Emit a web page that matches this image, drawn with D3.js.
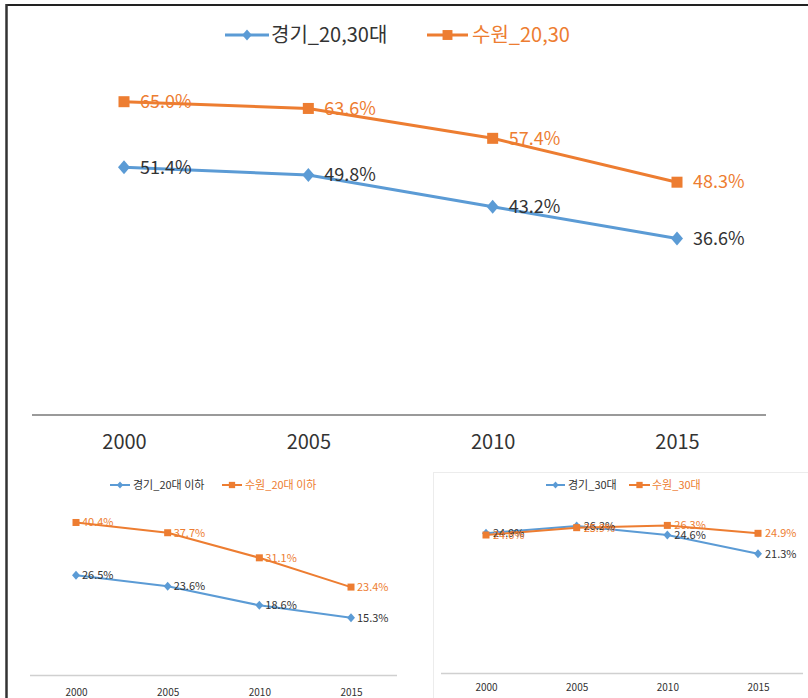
<!DOCTYPE html>
<html><head><meta charset="utf-8">
<script src="https://cdn.jsdelivr.net/npm/d3@7"></script>
<style>html,body{margin:0;padding:0;background:#fff;}svg{display:block;}</style>
</head><body>
<script>
const years = ["2000", "2005", "2010", "2015"];
const gyeonggi2030 = [51.4, 49.8, 43.2, 36.6];
const suwon2030 = [65.0, 63.6, 57.4, 48.3];
const gyeonggi20 = [26.5, 23.6, 18.6, 15.3];
const suwon20 = [40.4, 37.7, 31.1, 23.4];
const gyeonggi30 = [24.9, 26.2, 24.6, 21.3];
const suwon30 = [24.6, 25.9, 26.3, 24.9];
const namesMain = ["경기_20,30대", "수원_20,30"];
const names20 = ["경기_20대 이하", "수원_20대 이하"];
const names30 = ["경기_30대", "수원_30대"];

const BLUE = "#5B9BD5", ORANGE = "#ED7D31", DARK = "#333333";
const FONT = "'Noto Sans CJK KR', 'Noto Sans', sans-serif";

const svg = d3.select("body").append("svg").attr("width", 808).attr("height", 698);
svg.append("rect").attr("width", 808).attr("height", 698).attr("fill", "#fff");

// frame
svg.append("line").attr("x1", 6).attr("x2", 808).attr("y1", 5).attr("y2", 5).attr("stroke", "#222").attr("stroke-width", 2);
svg.append("line").attr("x1", 6.5).attr("x2", 6.5).attr("y1", 4).attr("y2", 698).attr("stroke", "#333").attr("stroke-width", 2.5);
// faint box of lower-right chart
svg.append("rect").attr("x", 433.5).attr("y", 472.5).attr("width", 380).attr("height", 240).attr("fill", "none").attr("stroke", "#ececec");

function diamond(g, x, y, w, h, color) {
  g.append("path").attr("d", `M${x},${y - h}L${x + w},${y}L${x},${y + h}L${x - w},${y}Z`).attr("fill", color);
}
function square(g, x, y, s, color) {
  g.append("rect").attr("x", x - s / 2).attr("y", y - s / 2).attr("width", s).attr("height", s).attr("fill", color);
}

function chart(cfg) {
  const g = svg.append("g");
  const x = d3.scalePoint().domain(years).range(cfg.xr);
  const y = d3.scaleLinear().domain(cfg.yd).range(cfg.yr);
  // axis line
  g.append("line").attr("x1", cfg.ax[0]).attr("x2", cfg.ax[1]).attr("y1", cfg.ay).attr("y2", cfg.ay)
    .attr("stroke", cfg.axColor).attr("stroke-width", cfg.axW);
  // tick labels
  const axis = d3.axisBottom(x).tickSize(0).tickPadding(0);
  const ag = g.append("g").attr("transform", `translate(0,${cfg.tickY})`).call(axis);
  ag.select(".domain").remove();
  ag.selectAll("text").attr("font-family", FONT).attr("font-size", cfg.tickFs).attr("fill", DARK)
    .attr("dy", "0.35em").attr("y", 0);

  const series = [
    {vals: cfg.blue, color: BLUE, label: DARK, mark: "d"},
    {vals: cfg.orange, color: ORANGE, label: ORANGE, mark: "s"}
  ];
  const line = d3.line().x((d, i) => x(years[i])).y(d => y(d));
  series.forEach(s => {
    g.append("path").attr("d", line(s.vals)).attr("fill", "none").attr("stroke", s.color)
      .attr("stroke-width", cfg.lw).attr("stroke-linejoin", "round");
  });
  series.forEach(s => {
    s.vals.forEach((v, i) => {
      if (s.mark === "d") diamond(g, x(years[i]), y(v), cfg.dw, cfg.dh, s.color);
      else square(g, x(years[i]), y(v), cfg.sq, s.color);
    });
  });
  series.forEach(s => {
    s.vals.forEach((v, i) => {
      g.append("text").attr("x", x(years[i]) + cfg.lo).attr("y", y(v)).attr("dy", "0.35em")
        .attr("font-family", FONT).attr("font-size", cfg.lfs).attr("fill", s.label)
        .text(v.toFixed(1) + "%");
    });
  });
  // legend
  const L = cfg.leg;
  g.append("line").attr("x1", L.b[0]).attr("x2", L.b[1]).attr("y1", L.y).attr("y2", L.y).attr("stroke", BLUE).attr("stroke-width", cfg.lw);
  diamond(g, (L.b[0] + L.b[1]) / 2, L.y, cfg.dw * 0.8, cfg.dh * 0.8, BLUE);
  g.append("text").attr("x", L.b[2]).attr("y", L.y).attr("dy", "0.35em").attr("font-family", FONT)
    .attr("font-size", L.fs).attr("fill", DARK).text(cfg.names[0]);
  g.append("line").attr("x1", L.o[0]).attr("x2", L.o[1]).attr("y1", L.y).attr("y2", L.y).attr("stroke", ORANGE).attr("stroke-width", cfg.lw);
  square(g, (L.o[0] + L.o[1]) / 2, L.y, cfg.sq * 0.9, ORANGE);
  g.append("text").attr("x", L.o[2]).attr("y", L.y).attr("dy", "0.35em").attr("font-family", FONT)
    .attr("font-size", L.fs).attr("fill", ORANGE).text(cfg.names[1]);
}

chart({
  xr: [124, 677], yd: [0, 70], yr: [415, 415 - 70 * 4.82],
  ax: [32, 766], ay: 415, axColor: "#9a9a9a", axW: 2,
  tickY: 442, tickFs: 20, lw: 3, dw: 6, dh: 7, sq: 11, lo: 16, lfs: 18,
  blue: gyeonggi2030, orange: suwon2030, names: namesMain,
  leg: {y: 35, b: [225, 269, 271], o: [427, 468, 472], fs: 20}
});
chart({
  xr: [76, 351], yd: [0, 50], yr: [676, 676 - 50 * 3.8],
  ax: [30, 397], ay: 675.5, axColor: "#d0d0d0", axW: 1.5,
  tickY: 692, tickFs: 10, lw: 2, dw: 4, dh: 4.5, sq: 7, lo: 6, lfs: 11,
  blue: gyeonggi20, orange: suwon20, names: names20,
  leg: {y: 485, b: [110, 130, 133], o: [222, 242, 245], fs: 11}
});
chart({
  xr: [486, 758], yd: [0, 30], yr: [674, 674 - 30 * 5.65],
  ax: [441, 803], ay: 673.5, axColor: "#d0d0d0", axW: 1.5,
  tickY: 687, tickFs: 10, lw: 2, dw: 4, dh: 4.5, sq: 7, lo: 7, lfs: 11,
  blue: gyeonggi30, orange: suwon30, names: names30,
  leg: {y: 485, b: [546, 565, 568], o: [629, 650, 652], fs: 11}
});
</script>
</body></html>
